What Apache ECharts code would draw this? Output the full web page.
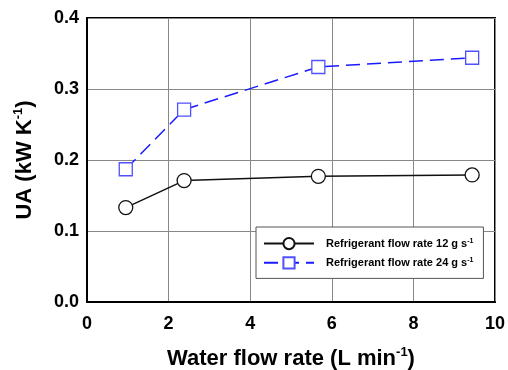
<!DOCTYPE html>
<html lang="en">
<head>
    <meta charset="UTF-8">
    <title>UA vs water flow rate</title>
    <script src="https://cdn.jsdelivr.net/npm/echarts@6/dist/echarts.min.js"></script>
    <style>
        html, body { margin: 0; padding: 0; background: #fff; }
        #main { width: 508px; height: 370px; }
    </style>
</head>
<body>
    <div id="main"></div>
    <script type="text/javascript">
        const waterFlow = [0.95, 2.38, 5.67, 9.44];
        const ua12 = [0.133, 0.171, 0.177, 0.179];
        const ua24 = [0.187, 0.271, 0.331, 0.344];
        const seriesNames = ['Refrigerant flow rate 12 g s{sup|-1}', 'Refrigerant flow rate 24 g s{sup|-1}'];

        const FONT = 'Liberation Sans, Arial, sans-serif';
        const pairs = (xs, ys) => xs.map((x, i) => [x, ys[i]]);
        const supStyle = size => ({
            fontFamily: FONT, fontWeight: 'bold', fontSize: size, verticalAlign: 'top',
            padding: [0, 0, Math.round(size * 0.9), 0]
        });

        const chart = echarts.init(document.getElementById('main'));
        chart.setOption({
            animation: false,
            grid: {
                left: 87, right: 13, top: 18, bottom: 68,
                outerBoundsMode: 'none',
                show: true, borderColor: '#000', borderWidth: 2
            },
            legend: {
                orient: 'vertical',
                left: 256, top: 227,
                padding: [10, 10, 9, 7],
                itemGap: 6,
                itemWidth: 50,
                itemHeight: 14,
                borderColor: '#555',
                borderWidth: 1,
                backgroundColor: '#fff',
                textStyle: {
                    fontFamily: FONT, fontWeight: 'bold', fontSize: 11, color: '#000',
                    padding: [0, 0, 0, 7],
                    rich: { sup: supStyle(7) }
                },
                data: seriesNames
            },
            xAxis: {
                type: 'value', min: 0, max: 10, interval: 2,
                axisLine: { show: true, lineStyle: { color: '#000', width: 2 } },
                axisTick: { show: false },
                splitLine: { lineStyle: { color: '#888', width: 1 } },
                axisLabel: { fontFamily: FONT, fontWeight: 'bold', fontSize: 18, color: '#000', margin: 13 },
                name: 'Water flow rate (L min{sup|-1})',
                nameLocation: 'middle',
                nameGap: 44,
                nameTextStyle: {
                    fontFamily: FONT, fontWeight: 'bold', fontSize: 22, color: '#000',
                    rich: { sup: supStyle(13) }
                }
            },
            yAxis: {
                type: 'value', min: 0, max: 0.4, interval: 0.1,
                axisLine: { show: true, lineStyle: { color: '#000', width: 2 } },
                axisTick: { show: false },
                splitLine: { lineStyle: { color: '#888', width: 1 } },
                axisLabel: {
                    fontFamily: FONT, fontWeight: 'bold', fontSize: 18, color: '#000', margin: 8,
                    formatter: v => v.toFixed(1)
                },
                name: 'UA (kW K{sup|-1})',
                nameLocation: 'middle',
                nameGap: 50,
                nameTextStyle: {
                    fontFamily: FONT, fontWeight: 'bold', fontSize: 22, color: '#000',
                    rich: { sup: supStyle(13) }
                }
            },
            series: [
                {
                    name: seriesNames[0],
                    type: 'line',
                    data: pairs(waterFlow, ua12),
                    symbol: 'circle',
                    symbolSize: 14,
                    lineStyle: { color: '#111', width: 1.5 },
                    itemStyle: { color: '#fff', borderColor: '#111', borderWidth: 1.3 }
                },
                {
                    name: seriesNames[1],
                    type: 'line',
                    data: pairs(waterFlow, ua24),
                    symbol: 'rect',
                    symbolSize: 13,
                    lineStyle: { color: '#1a1aff', width: 1.5, type: [14, 7] },
                    itemStyle: { color: '#fff', borderColor: '#5050ff', borderWidth: 1.3 }
                }
            ]
        });
    </script>
</body>
</html>
